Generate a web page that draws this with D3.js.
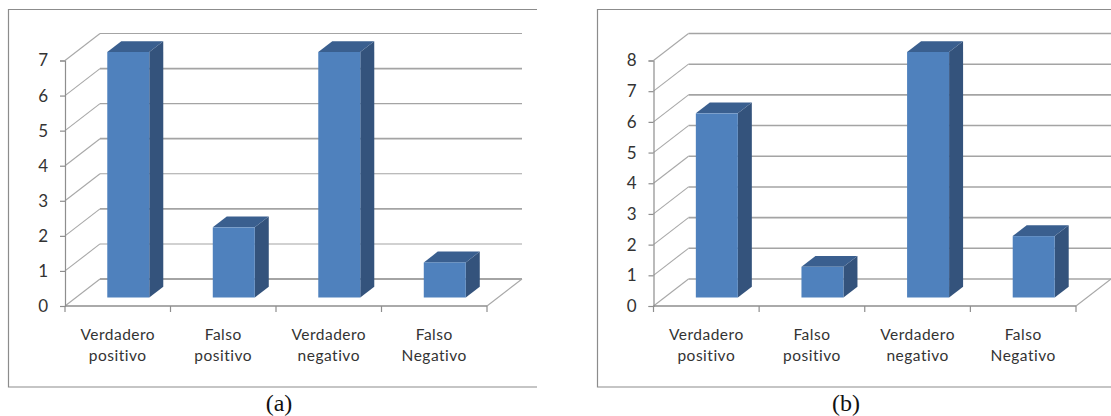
<!DOCTYPE html>
<html>
<head>
<meta charset="utf-8">
<script src="https://cdn.jsdelivr.net/npm/d3@7"></script>
<style>
html,body{margin:0;padding:0;background:#fff;overflow:hidden}
svg{display:block}
</style>
</head>
<body>
<svg id="chart" width="1111" height="416"></svg>
<script>
const categories = [["Verdadero","positivo"],["Falso","positivo"],["Verdadero","negativo"],["Falso","Negativo"]];
const valuesA = [7, 2, 7, 1];
const valuesB = [6, 1, 8, 2];
const ticksA = [0,1,2,3,4,5,6,7];
const ticksB = [0,1,2,3,4,5,6,7,8];
const captions = ["(a)", "(b)"];

const svg = d3.select("#chart");
const depth = {dx: 35, dy: -27};
const barFront = 0.315, barDepth = 0.4;
const colors = {front:"#4f81bd", side:"#34537c", top:"#3a5f8f", grid:"#a4a4a4", diag:"#a8a8a8", floor:"#a8a8a8", axis:"#8e8e8e", frame:"#8c8c8c", text:"#333"};
const labelFont = "Lato, 'Open Sans', sans-serif";

function panel(cfg) {
  const g = svg.append("g");
  // Chart border: the right-hand side is cut off, so only three edges are drawn
  g.append("path")
    .attr("d", d3.line()([[cfg.frame[1],9.5],[cfg.frame[0],9.5],[cfg.frame[0],387],[cfg.frame[1],387]]))
    .attr("fill","none").attr("stroke", colors.frame).attr("stroke-width", 1.2);

  const y = d3.scaleLinear().domain([0, d3.max(cfg.ticks)]).range([306, 60.5]);
  const x = d3.scaleBand().domain(d3.range(cfg.values.length)).range([cfg.x0, cfg.x1]);
  const bw = 42;

  // Back wall gridlines with their diagonal returns along the side wall
  cfg.ticks.forEach(t => {
    const yy = y(t);
    g.append("line")
      .attr("x1", cfg.x0+depth.dx).attr("x2", cfg.x1+depth.dx)
      .attr("y1", yy+depth.dy).attr("y2", yy+depth.dy)
      .attr("stroke", colors.grid).attr("stroke-width", cfg.gridWidth(t));
    g.append("line")
      .attr("x1", cfg.x0).attr("x2", cfg.x0+depth.dx)
      .attr("y1", yy).attr("y2", yy+depth.dy)
      .attr("stroke", colors.diag).attr("stroke-width", 1.1);
  });

  // Floor edge on the right
  g.append("line")
    .attr("x1", cfg.x1).attr("x2", cfg.x1+depth.dx)
    .attr("y1", y(0)).attr("y2", y(0)+depth.dy)
    .attr("stroke", colors.floor).attr("stroke-width", 1.1);

  // Vertical axis with ticks, horizontal axis with ticks
  const yAxis = d3.axisLeft(y).tickValues(cfg.ticks).tickSize(5).tickPadding(12).tickFormat(d3.format("d"));
  const ya = g.append("g").attr("transform", `translate(${cfg.x0},0)`).call(yAxis);
  ya.select(".domain").attr("stroke", colors.axis).attr("stroke-width", 1.2);
  ya.selectAll(".tick line").attr("stroke", colors.axis).attr("stroke-width", 1.2);
  ya.selectAll("text").attr("font-family", labelFont).attr("font-size", 17).attr("fill", colors.text);

  const xEdges = d3.range(cfg.values.length+1).map(i => i < cfg.values.length ? x(i) : cfg.x1);
  g.append("line").attr("x1", cfg.x0).attr("x2", cfg.x1).attr("y1", y(0)).attr("y2", y(0))
    .attr("stroke", colors.axis).attr("stroke-width", 1.6);
  g.selectAll(".xt").data(xEdges).join("line").attr("class","xt")
    .attr("x1", d=>d).attr("x2", d=>d).attr("y1", y(0)).attr("y2", y(0)+6)
    .attr("stroke", colors.axis).attr("stroke-width", 1.2);

  // Bars: front face, side face, top face
  const ox = depth.dx*barFront, oy = depth.dy*barFront;
  const bdx = depth.dx*barDepth, bdy = depth.dy*barDepth;
  cfg.values.forEach((v,i) => {
    const l = x(i) + (x.bandwidth()-bw)/2 + ox - 0.5, r = l + bw;
    const b = y(0)+oy, t = y(v)+oy;
    g.append("path").attr("fill", colors.side)
      .attr("d", d3.line()([[r,t],[r+bdx,t+bdy],[r+bdx,b+bdy],[r,b]])+"Z");
    g.append("path").attr("fill", colors.top)
      .attr("d", d3.line()([[l,t],[l+bdx,t+bdy],[r+bdx,t+bdy],[r,t]])+"Z");
    g.append("rect").attr("x", l).attr("y", t).attr("width", bw).attr("height", b-t).attr("fill", colors.front);
  });

  // Two-line category labels
  categories.forEach((lines,i) => {
    const cx = x(i) + x.bandwidth()/2;
    lines.forEach((s,j) => g.append("text").text(s)
      .attr("x", cx).attr("y", 340 + j*21).attr("text-anchor","middle")
      .attr("font-family", labelFont).attr("font-size", 15.5).attr("letter-spacing", 0.5).attr("fill", colors.text));
  });

  g.append("text").text(cfg.caption).attr("x", cfg.capX).attr("y", 410.5).attr("text-anchor","middle")
    .attr("font-family","'Liberation Serif', serif").attr("font-size", 24).attr("fill","#111");
}

panel({values: valuesA, ticks: ticksA, x0: 65, x1: 487, frame: [8.5, 537], caption: captions[0], capX: 279,
       gridWidth: t => t % 2 === 0 ? 1.8 : 1.1});
panel({values: valuesB, ticks: ticksB, x0: 653.5, x1: 1076, frame: [597.5, 1111], caption: captions[1], capX: 846,
       gridWidth: () => 1.6});
</script>
</body>
</html>
